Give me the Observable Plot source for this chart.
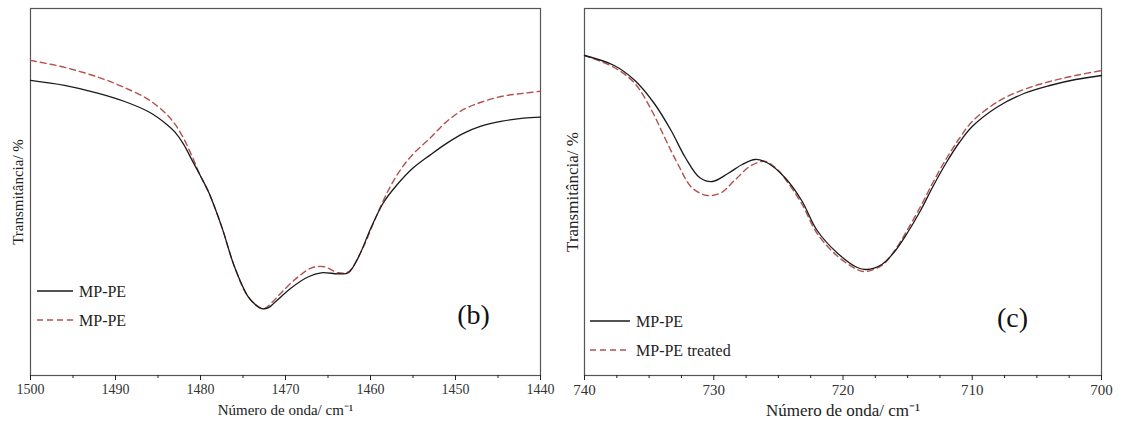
<!DOCTYPE html>
<html><head><meta charset="utf-8">
<script src="https://cdn.jsdelivr.net/npm/d3@7"></script>
<script src="https://cdn.jsdelivr.net/npm/@observablehq/plot@0.6"></script>
<style>
body{margin:0;background:#fff;width:1123px;height:423px;overflow:hidden;position:relative;font-family:"Liberation Serif",serif}
.panel{position:absolute;top:0}
#legend{position:absolute;left:0;top:0;pointer-events:none}
svg, svg text{font-family:"Liberation Serif","Times New Roman",serif !important}
</style></head><body>
<div id="b" class="panel" style="left:0"></div>
<div id="c" class="panel" style="left:560px"></div>
<svg id="legend" width="1123" height="423"></svg>
<script>
// Panel (b): 1500–1440 cm-1 (arbitrary transmittance units)
const wnB_black = [1500,1496,1492,1489,1486,1484,1483,1482,1481,1480,1479,1477.5,1476,1474.4,1473.4,1472.8,1472,1471.3,1469.3,1467.3,1465.8,1463.8,1462.6,1461.4,1460,1458.5,1457,1455,1453,1451,1449,1447,1444.5,1442,1440];
const tB_black = [320,315,307,299,288,276,268,256,240,224,207,173,133,103,94,91,92,97,112,123,127,126,127,143,171,197,214,232,245,257,267,274,279,282,283];
const wnB_red = [1500,1496,1492,1489,1486,1484,1483,1482,1481,1480,1479,1477.5,1476,1474.4,1473,1472.5,1471.5,1470.5,1468.5,1466.9,1465.4,1463.8,1462.6,1461,1459.5,1458,1456.5,1455,1453,1451,1449,1447,1444.5,1442,1440];
const tB_red = [340,333,323,313,300,286,276,262,244,224,207,173,133,103,92,91,98,107,123,132,133,127,128,150,180,208,230,246,262,279,291,298,304,307,309];

// Panel (c): 740–700 cm-1
const wnC_black = [740,737.7,736.1,734.6,733.3,732.2,731.1,730.1,728.9,727.8,726.8,725.9,724.5,723.2,722,720.4,718.9,718.2,717,716,715,714,713,712,711,710,708,706,704,702,700];
const tC_black = [345,335,320,297,270,243,223,219,227,236,241,238,223,200,170,147,133,131,136,149,168,190,215,238,258,274,294,307,315,321,325];
const wnC_red = [740,737.7,736.1,734.8,733.8,732.8,731.7,730.5,729.4,728.4,727.1,726,725,724.5,723.2,722,720.4,718.9,718.3,717,716,715,714,713,712,711,710,708,706,704,702,700];
const tC_red = [345,333,317,290,263,237,213,205,208,220,235,239,230,222,197,167,144,131,129,135,150,171,194,219,242,262,279,299,311,319,325,330];

const majorB = [1500,1490,1480,1470,1460,1450,1440];
const minorB = [1495,1485,1475,1465,1455,1445];
const majorC = [740,730,720,710,700];
const minorC = [737.5,735,732.5,727.5,725,722.5,717.5,715,712.5,707.5,705,702.5];

const xLabel = "Número de onda/ cm⁻¹";
const yLabel = "Transmitância/ %";

const blackColor = "#1a1a1a";
const redColor = "#b4504e";
const font = '"Liberation Serif", "Times New Roman", serif';

function panel(o) {
  const black = o.wnBlack.map((x, i) => ({x, y: o.tBlack[i]}));
  const red = o.wnRed.map((x, i) => ({x, y: o.tRed[i]}));
  return Plot.plot({
    width: o.width, height: 423,
    marginLeft: o.ml, marginRight: o.mr, marginTop: 8, marginBottom: 48,
    style: {fontFamily: font, fontSize: o.tickFont + "px", color: "#333", background: "transparent"},
    x: {domain: o.xDomain},
    y: {domain: o.yDomain, axis: null},
    marks: [
      Plot.frame({stroke: "#555", strokeWidth: 1.2}),
      Plot.axisX({ticks: o.minor, tickSize: 3, tickFormat: () => "", label: null, stroke: "#222"}),
      Plot.axisX({ticks: o.major, tickSize: 5, tickPadding: 4, tickFormat: d => String(d), label: null, stroke: "#222", fill: "#333"}),
      Plot.text([xLabel], {frameAnchor: "bottom", dy: 35, textAnchor: "middle", lineAnchor: "middle", fontSize: o.labelFont, fill: "#222"}),
      Plot.text([yLabel], {frameAnchor: "left", rotate: -90, dx: -12, textAnchor: "middle", lineAnchor: "middle", fontSize: o.labelFont, fill: "#222"}),
      Plot.line(red, {x: "x", y: "y", stroke: redColor, strokeWidth: 1.4, strokeDasharray: "6,4", curve: "catmull-rom"}),
      Plot.line(black, {x: "x", y: "y", stroke: blackColor, strokeWidth: 1.3, curve: "catmull-rom"}),
      Plot.text([o.tag], {frameAnchor: "bottom-right", dx: o.tagDx, dy: o.tagDy, textAnchor: "middle", lineAnchor: "middle", fontSize: 28, fill: "#111"})
    ]
  });
}

document.getElementById("b").appendChild(panel({
  width: 560, ml: 30, mr: 20, xDomain: [1500, 1440], yDomain: [24, 392],
  wnBlack: wnB_black, tBlack: tB_black, wnRed: wnB_red, tRed: tB_red,
  major: majorB, minor: minorB, tickFont: 14, labelFont: 15, tag: "(b)", tagDx: -67, tagDy: -60
}));
document.getElementById("c").appendChild(panel({
  width: 563, ml: 24, mr: 22, xDomain: [740, 700], yDomain: [25, 392],
  wnBlack: wnC_black, tBlack: tC_black, wnRed: wnC_red, tRed: tC_red,
  major: majorC, minor: minorC, tickFont: 15, labelFont: 17, tag: "(c)", tagDx: -89, tagDy: -57
}));

// Legends
const legends = [
  {x: 37, len: 36, y: 291, gap: 29, labels: ["MP-PE", "MP-PE"]},
  {x: 590, len: 40, y: 321, gap: 29, labels: ["MP-PE", "MP-PE treated"]}
];
const svg = d3.select("#legend");
legends.forEach(L => {
  L.labels.forEach((lab, i) => {
    const y = L.y + i * L.gap;
    svg.append("line").attr("x1", L.x).attr("x2", L.x + L.len).attr("y1", y).attr("y2", y)
      .attr("stroke", i === 0 ? blackColor : redColor).attr("stroke-width", 1.3)
      .attr("stroke-dasharray", i === 0 ? null : "6,4");
    svg.append("text").attr("x", L.x + L.len + 6).attr("y", y + 6)
      .attr("font-family", font).attr("font-size", 16).attr("fill", "#222").text(lab);
  });
});
</script>
</body></html>
